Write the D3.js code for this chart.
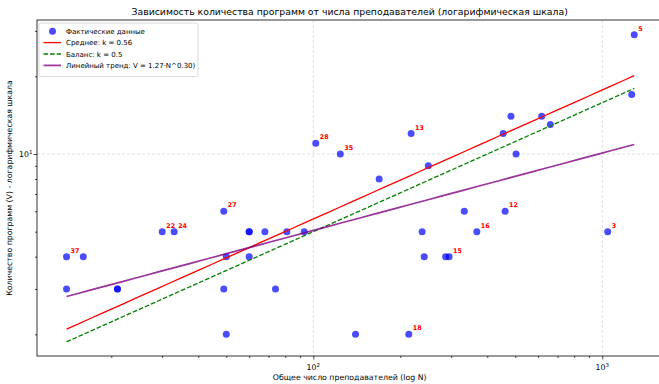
<!DOCTYPE html>
<html><head><meta charset="utf-8">
<script src="https://cdn.jsdelivr.net/npm/d3@7"></script>
<style>
html,body{margin:0;padding:0;background:#fff;}
svg{display:block;font-family:"DejaVu Sans",sans-serif;}
</style></head>
<body>
<script>
// ---- data ----
const teachersN = [14, 16, 14, 21, 21, 30, 33, 49, 50, 49, 50, 60, 60, 68, 81, 93, 60, 74, 140, 102, 124, 169, 218, 250, 238, 242, 287, 295, 333, 368, 461, 454, 483, 503, 617, 661, 1264, 1044, 214, 1290];
const programsV = [4, 4, 3, 3, 3, 5, 5, 6, 4, 3, 2, 5, 5, 5, 5, 5, 4, 3, 2, 11, 10, 8, 12, 9, 5, 4, 4, 4, 6, 5, 6, 12, 14, 10, 14, 13, 17, 5, 2, 29];
const pointLabels = ["37", "", "", "", "", "22", "24", "27", "", "", "", "", "", "", "", "", "", "", "", "28", "35", "", "13", "", "", "", "", "15", "", "16", "12", "", "", "", "", "", "", "3", "18", "5"];
const kMean = 0.56, kBalance = 0.5;
const trendA = 1.27, trendB = 0.30;
const xMajorTicks = [100, 1000];
const xMinorTicks = [20,30,40,50,60,70,80,90,200,300,400,500,600,700,800,900];
const yMajorTicks = [10];
const yMinorTicks = [2,3,4,5,6,7,8,9,20,30];
const legendLabels = ["Фактические данные", "Среднее: k = 0.56", "Баланс: k = 0.5", "Линейный тренд: V = 1.27·N^0.30)"];

const W = 659, H = 384;
const svg = d3.select("body").append("svg").attr("width", W).attr("height", H);
const L = 37, R = 662.4, T = 20, B = 356;
const x = d3.scaleLog().domain([Math.pow(10, 1.0439), Math.pow(10, 3.208)]).range([L, R]);
const y = d3.scaleLog().domain([Math.pow(10, 0.2171), Math.pow(10, 1.5194)]).range([B, T]);

svg.append("clipPath").attr("id","pc").append("rect").attr("x",L).attr("y",T).attr("width",R-L).attr("height",B-T);

// grid
const grid = svg.append("g");
xMajorTicks.forEach(v => grid.append("line").attr("x1", x(v)).attr("x2", x(v)).attr("y1", T).attr("y2", B)
  .attr("stroke", "#b0b0b0").attr("stroke-opacity", 0.5).attr("stroke-width", 0.8).attr("stroke-dasharray", "3,2"));
yMajorTicks.forEach(v => grid.append("line").attr("x1", L).attr("x2", R).attr("y1", y(v)).attr("y2", y(v))
  .attr("stroke", "#b0b0b0").attr("stroke-opacity", 0.5).attr("stroke-width", 0.8).attr("stroke-dasharray", "3,2"));

// points
const plot = svg.append("g").attr("clip-path", "url(#pc)");
plot.selectAll("circle").data(teachersN).enter().append("circle")
  .attr("cx", (d) => x(d)).attr("cy", (d, i) => y(programsV[i])).attr("r", 3.5)
  .attr("fill", "#0000ff").attr("fill-opacity", 0.7);

// lines
const nMin = d3.min(teachersN), nMax = d3.max(teachersN);
const nGrid = d3.range(0, 51).map(i => nMin * Math.pow(nMax / nMin, i / 50));
const line = d3.line().x(d => x(d[0])).y(d => y(d[1]));
plot.append("path").datum(nGrid.map(n => [n, kMean * Math.sqrt(n)]))
  .attr("d", line).attr("fill", "none").attr("stroke", "#ff0000").attr("stroke-width", 1.3);
plot.append("path").datum(nGrid.map(n => [n, kBalance * Math.sqrt(n)]))
  .attr("d", line).attr("fill", "none").attr("stroke", "#008000").attr("stroke-width", 1.3).attr("stroke-dasharray", "4.6,2");
plot.append("path").datum(nGrid.map(n => [n, trendA * Math.pow(n, trendB)]))
  .attr("d", line).attr("fill", "none").attr("stroke", "#800080").attr("stroke-opacity", 0.8).attr("stroke-width", 1.7);

// labels
svg.append("g").selectAll("text").data(teachersN.map((n, i) => [n, programsV[i], pointLabels[i]]).filter(d => d[2] !== ""))
  .enter().append("text").attr("x", d => x(d[0]) + 4).attr("y", d => y(d[1]) - 4)
  .attr("fill", "#ff0000").attr("font-size", 6.4).attr("font-weight", "bold").text(d => d[2]);

// axes
const ax = svg.append("g");
ax.append("g").attr("transform", `translate(0,${B})`)
  .call(d3.axisBottom(x).tickValues(xMajorTicks).tickSize(3.5).tickFormat("")).call(g => g.select(".domain").remove());
ax.append("g").attr("transform", `translate(0,${B})`)
  .call(d3.axisBottom(x).tickValues(xMinorTicks).tickSize(2).tickFormat("")).call(g => g.select(".domain").remove());
ax.append("g").attr("transform", `translate(${L},0)`)
  .call(d3.axisLeft(y).tickValues(yMajorTicks).tickSize(3.5).tickFormat("")).call(g => g.select(".domain").remove());
ax.append("g").attr("transform", `translate(${L},0)`)
  .call(d3.axisLeft(y).tickValues(yMinorTicks).tickSize(2).tickFormat("")).call(g => g.select(".domain").remove());
ax.selectAll(".tick line").attr("stroke", "#000").attr("stroke-width", 0.7);

// tick labels with superscripts
xMajorTicks.forEach(v => {
  const t = svg.append("text").attr("x", x(v)).attr("y", B + 14).attr("text-anchor", "middle").attr("font-size", 7.8).attr("fill","#000");
  t.append("tspan").text("10");
  t.append("tspan").attr("dy", -3.5).attr("font-size", 5.5).text(Math.round(Math.log10(v)));
});
yMajorTicks.forEach(v => {
  const t = svg.append("text").attr("x", L - 4.5).attr("y", y(v) + 3).attr("text-anchor", "end").attr("font-size", 7.8).attr("fill","#000");
  t.append("tspan").text("10");
  t.append("tspan").attr("dy", -3.5).attr("font-size", 5.5).text(Math.round(Math.log10(v)));
});

// spines
svg.append("rect").attr("x", L).attr("y", T).attr("width", R - L).attr("height", B - T)
  .attr("fill", "none").attr("stroke", "#000").attr("stroke-width", 0.8);

// title & axis labels
svg.append("text").attr("x", (L + R) / 2).attr("y", 15).attr("text-anchor", "middle").attr("font-size", 9.3).text("Зависимость количества программ от числа преподавателей (логарифмическая шкала)");
svg.append("text").attr("x", (L + R) / 2).attr("y", 380).attr("text-anchor", "middle").attr("font-size", 7.8).text("Общее число преподавателей (log N)");
svg.append("text").attr("transform", `translate(12,${(T + B) / 2}) rotate(-90)`).attr("text-anchor", "middle").attr("font-size", 7.8).text("Количество программ (V) - логарифмическая шкала");

// legend
const lg = svg.append("g");
lg.append("rect").attr("x", 39).attr("y", 23).attr("width", 159).attr("height", 53.5).attr("rx", 2)
  .attr("fill", "#fff").attr("fill-opacity", 0.8).attr("stroke", "#d0d0d0").attr("stroke-width", 0.8);
const rowY = [31.3, 42.6, 54.0, 65.4];
lg.append("circle").attr("cx", 52.5).attr("cy", rowY[0]).attr("r", 3.5).attr("fill", "#0000ff").attr("fill-opacity", 0.7);
lg.append("line").attr("x1", 43.5).attr("x2", 61).attr("y1", rowY[1]).attr("y2", rowY[1]).attr("stroke", "#ff0000").attr("stroke-width", 1.3);
lg.append("line").attr("x1", 43.5).attr("x2", 61).attr("y1", rowY[2]).attr("y2", rowY[2]).attr("stroke", "#008000").attr("stroke-width", 1.3).attr("stroke-dasharray", "4.6,2");
lg.append("line").attr("x1", 43.5).attr("x2", 61).attr("y1", rowY[3]).attr("y2", rowY[3]).attr("stroke", "#800080").attr("stroke-opacity", 0.8).attr("stroke-width", 1.7);
legendLabels.forEach((s, i) => lg.append("text").attr("x", 66).attr("y", rowY[i] + 2.6).attr("font-size", 7.0).text(s));
</script>
</body></html>
